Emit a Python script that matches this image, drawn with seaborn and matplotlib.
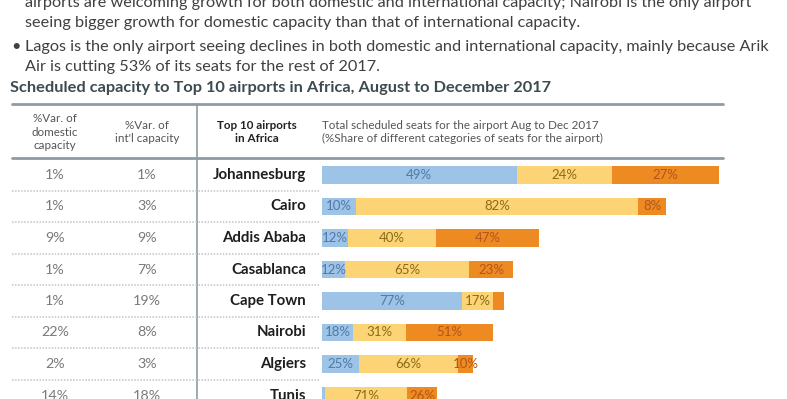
import numpy as np
import pandas as pd
import seaborn as sns
import matplotlib.pyplot as plt

# table data
airports = ["Johannesburg", "Cairo", "Addis Ababa", "Casablanca",
            "Cape Town", "Nairobi", "Algiers", "Tunis"]
dom_var = [1, 1, 9, 1, 1, 22, 2, 14]
intl_var = [1, 3, 9, 7, 19, 8, 3, 18]
# total scheduled seats Aug-Dec 2017 (relative)
total_seats = [3.97, 3.44, 2.17, 1.91, 1.82, 1.71, 1.51, 1.15]
# % share of seat categories per airport
share_blue = [49, 10, 12, 12, 77, 18, 25, 3]
share_yellow = [24, 82, 40, 65, 17, 31, 66, 71]
share_orange = [27, 8, 47, 23, 6, 51, 10, 26]

W, H = 787, 399
ROW0, STEP = 175, 31.5

sns.set_style("white")
plt.rcParams["font.family"] = ["Lato", "DejaVu Sans"]

fig = plt.figure(figsize=(W / 100, H / 100), dpi=100)

# canvas in pixel coordinates for the table and text
cv = fig.add_axes([0, 0, 1, 1])
cv.set_xlim(0, W)
cv.set_ylim(H, 0)
cv.axis("off")

txt = "#404040"
fs_top = 11.7
cv.text(25, 3, "airports are welcoming growth for both domestic and international capacity; Nairobi is the only airport",
        fontsize=fs_top, color=txt, va="center")
cv.text(25, 23, "seeing bigger growth for domestic capacity than that of international capacity.",
        fontsize=fs_top, color=txt, va="center")
cv.text(11, 47, "\u2022", fontsize=fs_top, color=txt, va="center")
cv.text(25, 47, "Lagos is the only airport seeing declines in both domestic and international capacity, mainly because Arik",
        fontsize=fs_top, color=txt, va="center")
cv.text(25, 67, "Air is cutting 53% of its seats for the rest of 2017.",
        fontsize=fs_top, color=txt, va="center")

cv.text(10, 88, "Scheduled capacity to Top 10 airports in Africa, August to December 2017",
        fontsize=11.8, fontweight="bold", color="#3d4b50", va="center")

line_c = "#8c9ca3"
cv.plot([12, 723], [104, 104], color=line_c, lw=2)
cv.plot([12, 723], [158, 158], color=line_c, lw=2)
cv.plot([197, 197], [104, H], color=line_c, lw=1.2)

hdr = "#555555"
fs_hdr = 8.4
cv.text(55, 132, "%Var. of\ndomestic\ncapacity", fontsize=fs_hdr, color=hdr,
        ha="center", va="center", linespacing=1.25)
cv.text(147, 132, "%Var. of\nint'l capacity", fontsize=fs_hdr, color=hdr,
        ha="center", va="center", linespacing=1.25)
cv.text(257, 132, "Top 10 airports\nin Africa", fontsize=fs_hdr, color="#222222",
        fontweight="bold", ha="center", va="center", linespacing=1.3)
cv.text(322, 132, "Total scheduled seats for the airport Aug to Dec 2017\n(%Share of different categories of seats for the airport)",
        fontsize=fs_hdr, color=hdr, ha="left", va="center", linespacing=1.3)

for i, name in enumerate(airports):
    y = ROW0 + STEP * i
    cv.text(55, y, f"{dom_var[i]}%", fontsize=10.3, color="#7a7a7a", ha="center", va="center")
    cv.text(147, y, f"{intl_var[i]}%", fontsize=10.3, color="#7a7a7a", ha="center", va="center")
    cv.text(306, y, name, fontsize=10.8, fontweight="bold", color="#1e1e1e", ha="right", va="center")
    if i < len(airports) - 1:
        cv.plot([12, 320], [y + STEP / 2, y + STEP / 2], color="#c4c4c4", lw=1.1, ls=(0, (1, 1)))

# bar axes
ax = fig.add_axes([322 / W, 0, (W - 322) / W, (H - 158) / H])
ax.patch.set_alpha(0)

shares = np.array([share_blue, share_yellow, share_orange], dtype=float)
shares = shares / shares.sum(axis=0)
seg = shares * np.array(total_seats)
cum = seg.cumsum(axis=0)

df = pd.DataFrame({
    "airport": airports,
    "blue": cum[0],
    "yellow": cum[1],
    "orange": cum[2],
})

colors = {"orange": "#ee8a22", "yellow": "#fdd475", "blue": "#9dc3e6"}
for col in ["orange", "yellow", "blue"]:
    sns.barplot(data=df, x=col, y="airport", order=airports, orient="h",
                color=colors[col], saturation=1, width=0.55, errorbar=None,
                linewidth=0, ax=ax)

label_c = ["#4f79a8", "#8a6a1a", "#b0561c"]
starts = np.vstack([np.zeros(len(airports)), cum[:-1]])
raw = [share_blue, share_yellow, share_orange]
for k in range(3):
    for i in range(len(airports)):
        if raw[k][i] >= 7:
            ax.text(starts[k][i] + seg[k][i] / 2, i, f"{raw[k][i]}%",
                    fontsize=9.5, color=label_c[k], ha="center", va="center")

ax.set_xlim(0, (W - 322) / 100)
ax.set_ylim((H - ROW0) / STEP, -(ROW0 - 158) / STEP)
ax.axis("off")

fig.savefig("out.png", dpi=100)
